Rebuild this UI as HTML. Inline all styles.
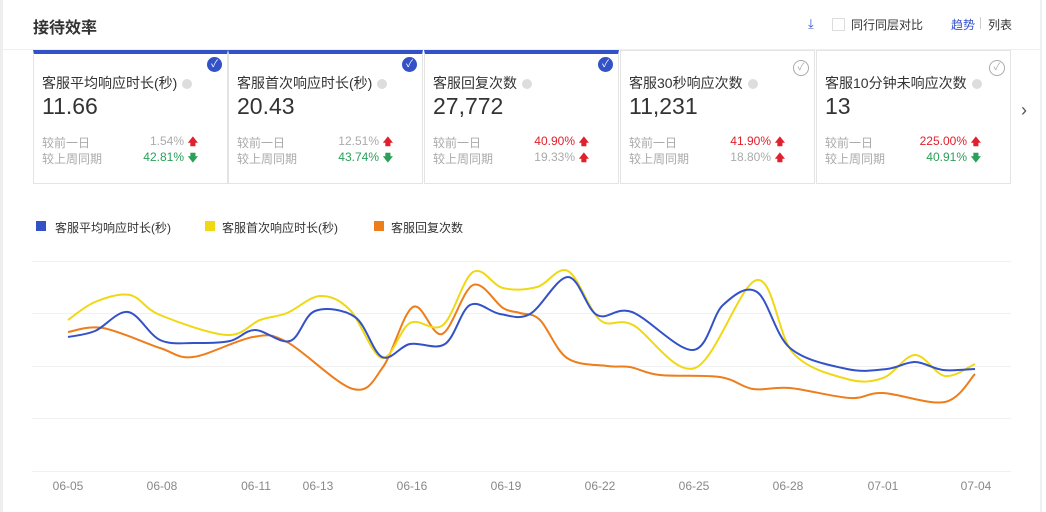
<!DOCTYPE html>
<html><head><meta charset="utf-8"><style>
body{margin:0;width:1046px;height:512px;overflow:hidden;background:#fff;font-family:"Liberation Sans","Noto Sans CJK SC",sans-serif;position:relative}
.a{position:absolute;white-space:nowrap}
.card{position:absolute;top:50px;height:134px;width:195px;border:1px solid #e4e4e4;box-sizing:border-box;border-top:1px solid #e4e4e4}
.card.sel{border-top:4px solid #3352c7}
.t{position:absolute;left:8px;top:22px;font-size:14px;color:#333}
.v{position:absolute;left:8px;top:42px;font-size:23px;color:#333}
.r{position:absolute;left:8px;font-size:12px;color:#aaa;width:178px}
.r span{position:absolute;right:36px}
.ar{position:absolute;right:22px;font-size:10px;font-weight:bold;top:1px}
.up{color:#e0202c}.dn{color:#2aa05a}
.q{display:inline-block;width:10px;height:10px;border-radius:50%;background:#ddd;margin-left:5px;vertical-align:-1px}
.ck{position:absolute;right:5px;top:5px;width:15px;height:15px;border-radius:50%;background:#3352c7;color:#fff;font-size:10px;text-align:center;line-height:15px}
.ck.o{background:#fff;border:1px solid #aaa;color:#aaa;width:14px;height:14px;line-height:14px}
</style></head><body>
<div class="a" style="left:0;top:0;width:3px;height:512px;background:#eee"></div>
<div class="a" style="left:1040px;top:0;width:2px;height:512px;background:#f0f0f0"></div>
<div class="a" style="left:33px;top:14px;font-size:16px;font-weight:bold;color:#333">接待效率</div>
<div class="a" style="left:808px;top:16px;font-size:13px;color:#3352c7">⤓</div>
<div class="a" style="left:832px;top:18px;width:11px;height:11px;border:1px solid #ddd"></div>
<div class="a" style="left:851px;top:16px;font-size:12px;color:#333">同行同层对比</div>
<div class="a" style="left:951px;top:16px;font-size:12px;color:#3352c7">趋势</div>
<div class="a" style="left:980px;top:17px;width:1px;height:12px;background:#ccc"></div>
<div class="a" style="left:988px;top:16px;font-size:12px;color:#333">列表</div>
<div class="a" style="left:0;top:49px;width:1040px;height:1px;background:#eee"></div>

<div class="card sel" style="left:33px"><div class="ck" style="top:3px">✓</div><div class="t" style="top:19px">客服平均响应时长(秒)<i class="q"></i></div><div class="v" style="top:39px">11.66</div>
<div class="r" style="top:80px">较前一日<span>1.54%</span><b class="ar up">🡅</b></div><div class="r" style="top:96px">较上周同期<span class="dn">42.81%</span><b class="ar dn">🡇</b></div></div>
<div class="card sel" style="left:228px"><div class="ck" style="top:3px">✓</div><div class="t" style="top:19px">客服首次响应时长(秒)<i class="q"></i></div><div class="v" style="top:39px">20.43</div>
<div class="r" style="top:80px">较前一日<span>12.51%</span><b class="ar up">🡅</b></div><div class="r" style="top:96px">较上周同期<span class="dn">43.74%</span><b class="ar dn">🡇</b></div></div>
<div class="card sel" style="left:424px"><div class="ck" style="top:3px">✓</div><div class="t" style="top:19px">客服回复次数<i class="q"></i></div><div class="v" style="top:39px">27,772</div>
<div class="r" style="top:80px">较前一日<span class="up">40.90%</span><b class="ar up">🡅</b></div><div class="r" style="top:96px">较上周同期<span>19.33%</span><b class="ar up">🡅</b></div></div>
<div class="card" style="left:620px"><div class="ck o" style="top:9px">✓</div><div class="t">客服30秒响应次数<i class="q"></i></div><div class="v">11,231</div>
<div class="r" style="top:83px">较前一日<span class="up">41.90%</span><b class="ar up">🡅</b></div><div class="r" style="top:99px">较上周同期<span>18.80%</span><b class="ar up">🡅</b></div></div>
<div class="card" style="left:816px"><div class="ck o" style="top:9px">✓</div><div class="t">客服10分钟未响应次数<i class="q"></i></div><div class="v">13</div>
<div class="r" style="top:83px">较前一日<span class="up">225.00%</span><b class="ar up">🡅</b></div><div class="r" style="top:99px">较上周同期<span class="dn">40.91%</span><b class="ar dn">🡇</b></div></div>
<div class="a" style="left:1021px;top:100px;font-size:18px;color:#555">›</div>

<div class="a" style="left:36px;top:221px;width:10px;height:10px;background:#3352c7"></div>
<div class="a" style="left:55px;top:219px;font-size:12px;color:#333">客服平均响应时长(秒)</div>
<div class="a" style="left:205px;top:221px;width:10px;height:10px;background:#f0d814"></div>
<div class="a" style="left:222px;top:219px;font-size:12px;color:#333">客服首次响应时长(秒)</div>
<div class="a" style="left:374px;top:221px;width:10px;height:10px;background:#ee7d1c"></div>
<div class="a" style="left:391px;top:219px;font-size:12px;color:#333">客服回复次数</div>

<svg class="a" style="left:0;top:0" width="1046" height="512" id="s">
<g stroke="#f0f0f0" stroke-width="1"><line x1="32" x2="1011" y1="261.5" y2="261.5"/><line x1="32" x2="1011" y1="313.5" y2="313.5"/><line x1="32" x2="1011" y1="366.5" y2="366.5"/><line x1="32" x2="1011" y1="418.5" y2="418.5"/><line x1="32" x2="1011" y1="471.5" y2="471.5"/></g>
<g font-size="12" fill="#888" text-anchor="middle" font-family="Liberation Sans,sans-serif">
<text x="68" y="490">06-05</text><text x="162" y="490">06-08</text><text x="256" y="490">06-11</text><text x="318" y="490">06-13</text><text x="412" y="490">06-16</text><text x="506" y="490">06-19</text><text x="600" y="490">06-22</text><text x="694" y="490">06-25</text><text x="788" y="490">06-28</text><text x="883" y="490">07-01</text><text x="976" y="490">07-04</text></g>
</svg>
<script>
function path(p){let d="M"+p[0][0]+","+p[0][1];for(let i=0;i<p.length-1;i++){const a=p[Math.max(i-1,0)],b=p[i],c=p[i+1],e=p[Math.min(i+2,p.length-1)];const k=6;d+=" C"+(b[0]+(c[0]-a[0])/k)+","+(b[1]+(c[1]-a[1])/k)+" "+(c[0]-(e[0]-b[0])/k)+","+(c[1]-(e[1]-b[1])/k)+" "+c[0]+","+c[1];}return d;}
const S={
"#ee7d1c":[[68,332],[103,328],[160,348],[193,357],[253,337],[287,342],[353,389],[383,367],[413,307],[442,334],[473,285],[503,308],[520,313],[540,320],[567,358],[607,366],[630,367],[660,375],[720,377],[753,389],[790,388],[850,398],[883,393],[945,402],[975,374]],
"#f0d814":[[68,320],[95,302],[130,295],[160,315],[227,335],[260,320],[287,313],[320,296],[350,310],[382,358],[410,323],[443,325],[473,272],[503,288],[537,287],[568,271],[600,320],[633,325],[695,368],[757,280],[793,353],[847,379],[883,378],[915,355],[945,376],[975,364]],
"#3352c7":[[68,337],[95,331],[128,312],[160,340],[195,343],[230,341],[255,330],[290,341],[315,311],[355,317],[382,357],[410,344],[445,344],[470,305],[500,314],[530,314],[568,277],[597,315],[632,312],[693,350],[723,305],[757,292],[790,348],[847,369],[887,369],[915,362],[943,370],[975,369]]};
const s=document.getElementById("s");
for(const c in S){const e=document.createElementNS("http://www.w3.org/2000/svg","path");e.setAttribute("d",path(S[c]));e.setAttribute("fill","none");e.setAttribute("stroke",c);e.setAttribute("stroke-width","2");s.appendChild(e);}
</script>
</body></html>
